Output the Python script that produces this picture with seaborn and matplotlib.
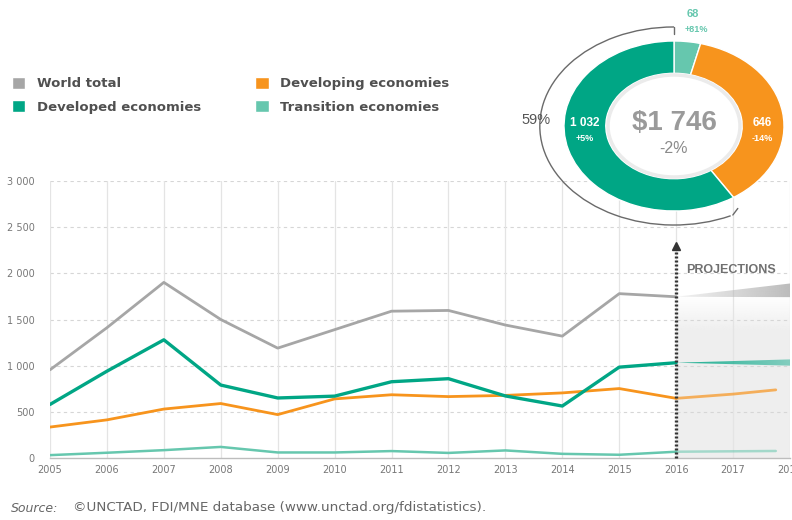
import numpy as np
import pandas as pd
import matplotlib
matplotlib.use("Agg")
import matplotlib.pyplot as plt
import seaborn as sns
from matplotlib.patches import Patch, Arc, Circle
from matplotlib.colors import to_rgb

# ---- data (USD billions) ----
years = [2005, 2006, 2007, 2008, 2009, 2010, 2011, 2012, 2013, 2014, 2015, 2016]
world_total = [955, 1411, 1902, 1500, 1190, 1390, 1590, 1598, 1440, 1320, 1780, 1746]
developed = [580, 940, 1280, 790, 650, 670, 826, 859, 672, 563, 984, 1032]
developing = [335, 413, 530, 590, 470, 640, 685, 665, 678, 705, 752, 646]
transition = [31, 57, 85, 120, 60, 60, 75, 55, 82, 45, 35, 68]

# projection ranges beyond 2016
proj_years = [2016, 2018]
world_proj_lo = [1746, 1742]
world_proj_hi = [1746, 1890]
developed_proj_lo = [1032, 1000]
developed_proj_hi = [1032, 1068]
developing_proj_years = [2016, 2017, 2017.75]
developing_proj = [646, 692, 738]
transition_proj_years = [2016, 2017.75]
transition_proj = [68, 76]

# 2016 breakdown for the ring
ring_labels = ["Transition economies", "Developing economies", "Developed economies"]
ring_values = [68, 646, 1032]
ring_changes = ["+81%", "-14%", "+5%"]
total_2016 = 1746
total_change = "-2%"
developed_share = "59%"

yticks = [0, 500, 1000, 1500, 2000, 2500, 3000]
ytick_labels = ["0", "500", "1 000", "1 500", "2 000", "2 500", "3 000"]
xticks = list(range(2005, 2019))

C_WORLD = "#a6a6a6"
C_DEVD = "#00a685"
C_DEVG = "#f7941d"
C_TRANS = "#66c7ae"

sns.set_theme(style="white")
plt.rcParams["font.family"] = ["Liberation Sans", "DejaVu Sans"]
WIDE = ["DejaVu Sans"]

fig = plt.figure(figsize=(7.92, 5.2), dpi=100)
W, H = 792, 520


def px_box(x0, y0, x1, y1):
    return [x0 / W, 1 - y1 / H, (x1 - x0) / W, (y1 - y0) / H]


ax = fig.add_axes(px_box(50, 181, 790, 458))


def gradient_fill(ax, x, lo, hi, color, a0, a1, ymin, ymax):
    poly = ax.fill_between(x, lo, hi, facecolor="none", edgecolor="none")
    rgb = to_rgb(color)
    n = 256
    img = np.zeros((1, n, 4))
    img[..., :3] = rgb
    img[..., 3] = np.linspace(a0, a1, n)
    im = ax.imshow(img, extent=[x[0], x[-1], ymin, ymax], aspect="auto",
                   origin="lower", zorder=3)
    im.set_clip_path(poly.get_paths()[0], transform=ax.transData)
    return im


# shaded projection zone
shade = np.zeros((256, 1, 4))
shade[..., :3] = to_rgb("#ececec")
shade[:, 0, 3] = np.concatenate([np.full(200, 0.85), np.linspace(0.85, 0.0, 56)])
ax.imshow(shade, extent=[2016, 2018, 0, 1760], aspect="auto", origin="lower", zorder=0.5)

# grid
for yv in yticks[1:]:
    ax.axhline(yv, color="#d6d6d6", lw=0.8, ls=(0, (3, 3)), zorder=0.6)
for xv in xticks:
    ax.axvline(xv, color="#e4e4e4", lw=0.9, zorder=0.6)

# historical lines
sns.lineplot(x=years, y=world_total, ax=ax, color=C_WORLD, lw=2.0, zorder=4)
sns.lineplot(x=years, y=developed, ax=ax, color=C_DEVD, lw=2.4, zorder=5)
sns.lineplot(x=years, y=developing, ax=ax, color=C_DEVG, lw=2.0, zorder=4)
sns.lineplot(x=years, y=transition, ax=ax, color=C_TRANS, lw=1.8, zorder=4)

# projections
gradient_fill(ax, proj_years, world_proj_lo, world_proj_hi, "#b5b5b5", 0.15, 0.9, 1700, 1900)
gradient_fill(ax, proj_years, developed_proj_lo, developed_proj_hi, C_DEVD, 0.9, 0.45, 990, 1070)
sns.lineplot(x=developing_proj_years, y=developing_proj, ax=ax, color=C_DEVG, lw=2.0, alpha=0.7, zorder=4)
sns.lineplot(x=transition_proj_years, y=transition_proj, ax=ax, color=C_TRANS, lw=1.8, alpha=0.55, zorder=4)

# dotted pointer from 2016 up to the ring
ax.plot([2016, 2016], [0, 2290], color="#333333", lw=2.4, ls=(0, (0.6, 0.6)),
        zorder=6, clip_on=False)
ax.plot([2016], [2300], marker="^", color="#333333", ms=6, zorder=6, clip_on=False)
ax.text(2016.97, 2036, "PROJECTIONS", ha="center", va="center", fontsize=9,
        fontweight="bold", color="#707070", zorder=7)

ax.set_xlim(2005, 2018)
ax.set_ylim(0, 3000)
ax.set_xticks(xticks)
ax.set_xticklabels([str(x) for x in xticks], fontsize=7, color="#777777", family=WIDE)
ax.set_yticks(yticks)
ax.set_yticklabels(ytick_labels, fontsize=7, color="#777777", family=WIDE)
ax.tick_params(axis="y", length=0, pad=11)
ax.tick_params(axis="x", length=0, pad=5)
for s in ["top", "right", "left"]:
    ax.spines[s].set_visible(False)
ax.spines["bottom"].set_color("#bdbdbd")
ax.spines["bottom"].set_linewidth(1.0)
ax.set_facecolor("none")

# legend
handles = [Patch(facecolor=C_WORLD, label="World total"),
           Patch(facecolor=C_DEVD, label="Developed economies"),
           Patch(facecolor=C_DEVG, label="Developing economies"),
           Patch(facecolor=C_TRANS, label="Transition economies")]
leg = fig.legend(handles=handles, ncol=2, loc="upper left",
                 bbox_to_anchor=(12 / W, 1 - 77 / H), frameon=False,
                 borderpad=0, borderaxespad=0, handlelength=1.0, handleheight=1.0,
                 handletextpad=0.9, columnspacing=4.1, labelspacing=0.75,
                 prop={"size": 9.5, "weight": "bold", "family": WIDE})
for t in leg.get_texts():
    t.set_color("#505050")

# ring chart of 2016 inflows
cx, cy = 674, 126
sx, sy = 110, 85
bx0, bx1, by0, by1 = 500, 792, 0, 240
axd = fig.add_axes(px_box(bx0, by0, bx1, by1))
axd.pie(ring_values, colors=[C_TRANS, C_DEVG, C_DEVD], startangle=90, counterclock=False,
        radius=1.0, wedgeprops=dict(width=0.38, edgecolor="white", linewidth=1.0))
axd.set_aspect("auto")
axd.set_xlim((bx0 - cx) / sx, (bx1 - cx) / sx)
axd.set_ylim((cy - by1) / sy, (cy - by0) / sy)
axd.add_patch(Circle((0, 0), 0.6, facecolor="white", edgecolor="#ebebeb", lw=2.5, zorder=3))

# bracket around the developed share
axd.add_patch(Arc((0, 0), 2 * 1.22, 2 * 1.165, theta1=90, theta2=296,
                  color="#6a6a6a", lw=1.0))
axd.plot([0, 0], [1.165, 1.08], color="#6a6a6a", lw=1.0)
axd.plot([0.535, 0.58], [-1.047, -0.97], color="#6a6a6a", lw=1.0)

axd.text(-1.255, 0.07, developed_share, ha="center", va="center", fontsize=10.5,
         color="#555555", zorder=5)
axd.text(0.17, 1.32, f"{ring_values[0]}", ha="center", va="center", fontsize=8,
         fontweight="bold", color=C_TRANS, zorder=5)
axd.text(0.20, 1.13, ring_changes[0], ha="center", va="center", fontsize=6.5,
         fontweight="bold", color=C_TRANS, zorder=5)
axd.text(0.80, 0.03, f"{ring_values[1]}", ha="center", va="center", fontsize=8.5,
         fontweight="bold", color="white", zorder=5)
axd.text(0.80, -0.15, ring_changes[1], ha="center", va="center", fontsize=6.5,
         fontweight="bold", color="white", zorder=5)
axd.text(-0.81, 0.03, f"{ring_values[2] // 1000} {ring_values[2] % 1000:03d}",
         ha="center", va="center", fontsize=8.5, fontweight="bold", color="white", zorder=5)
axd.text(-0.81, -0.15, ring_changes[2], ha="center", va="center", fontsize=6.5,
         fontweight="bold", color="white", zorder=5)
axd.text(0, 0.04, f"${total_2016 // 1000} {total_2016 % 1000:03d}", ha="center",
         va="center", fontsize=20, fontweight="bold", color="#9a9a9a", zorder=5)
axd.text(0, -0.27, total_change, ha="center", va="center", fontsize=11.5,
         color="#8a8a8a", zorder=5)
axd.axis("off")

# source note
fig.text(11 / W, 1 - 508 / H, "Source:", fontsize=9, style="italic", color="#666666",
         va="center", family=WIDE)
fig.text(73 / W, 1 - 508 / H, "\u00a9UNCTAD, FDI/MNE database (www.unctad.org/fdistatistics).",
         fontsize=9.7, color="#666666", va="center", family=WIDE)

fig.savefig("out.png", dpi=100)
